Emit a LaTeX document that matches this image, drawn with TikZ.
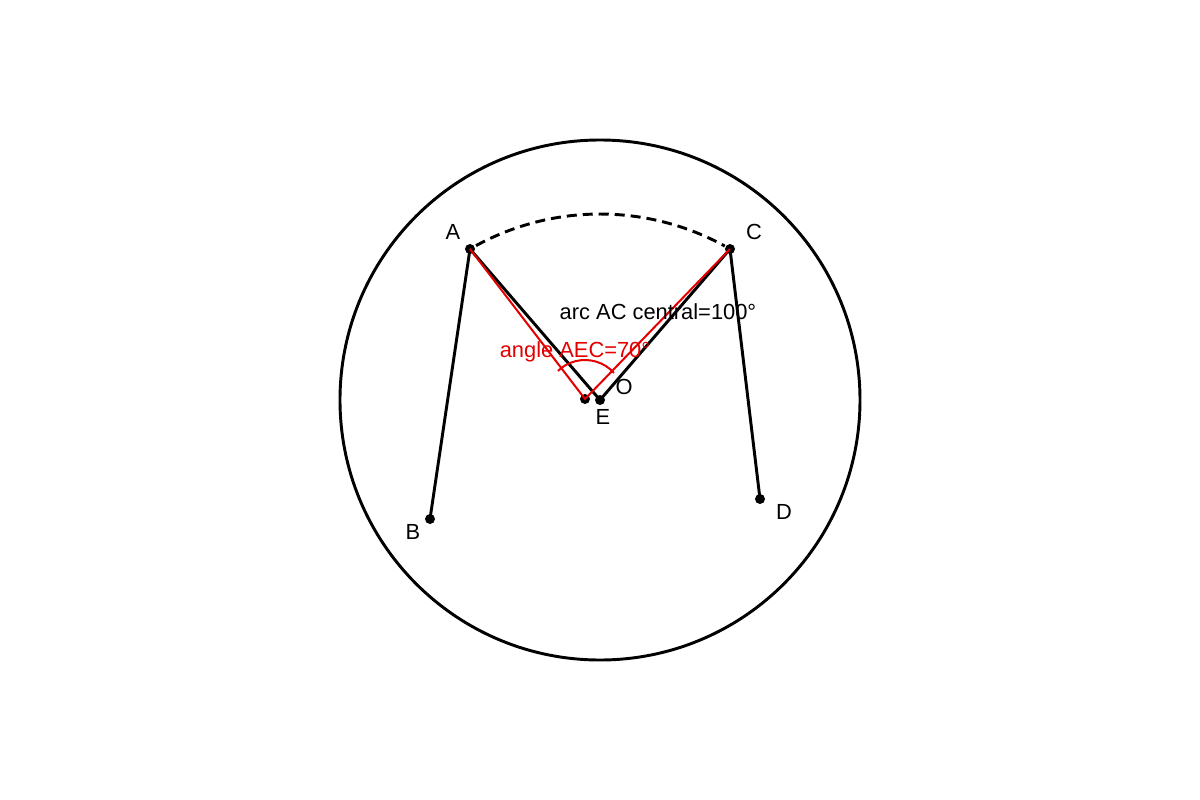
\documentclass[tikz,border=0pt]{standalone}
\usepackage{fontspec}
\setmainfont{Liberation Sans}
\begin{document}
\begin{tikzpicture}[x=0.75pt,y=-0.75pt,
  blk/.style={line width=2.2pt,black},
  redl/.style={line width=1.5pt,red!90!black},
  dot/.style={circle,fill=black,inner sep=0pt,minimum size=7.5pt},
  lbl/.style={font=\fontsize{16.4}{19}\selectfont,inner sep=0pt}]
\useasboundingbox (0,0) rectangle (1200,800);
\coordinate (Oc) at (600,400);
\coordinate (Ac) at (600,473);
\draw[blk] (Oc) circle[radius=260];
\node[dot] (A) at (470,249) {};
\node[dot] (C) at (730,249) {};
\node[dot] (B) at (430,519) {};
\node[dot] (D) at (760,499) {};
\node[dot] (O) at (600,400) {};
\node[dot] (E) at (585,399) {};
\draw[blk] (A.center) -- (B.center);
\draw[blk] (C.center) -- (D.center);
\draw[blk] (A.center) -- (O.center) -- (C.center);
\draw[redl] (A.center) -- (E.center) -- (C.center);
\draw[redl] ([shift={(-134:39)}]E.center) arc[start angle=-134,end angle=-42,radius=39];
\draw[blk,dash pattern=on 7.5pt off 4.5pt] ([shift={(-118.6:259)}]Ac) arc[start angle=-118.6,end angle=-61.2,radius=259];
\node[lbl] (lA) at (453,232) {A};
\node[lbl] (lC) at (754,232) {C};
\node[lbl] (lB) at (413,532) {B};
\node[lbl] (lD) at (784,512) {D};
\node[lbl] (lO) at (624,387) {O};
\node[lbl] (lE) at (603,417) {E};
\node[lbl] (t1) at (658,312) {arc AC central=100°};
\node[lbl,text=red!90!black] (t2) at (575,352) {angle AEC=70°};
\end{tikzpicture}
\end{document}
